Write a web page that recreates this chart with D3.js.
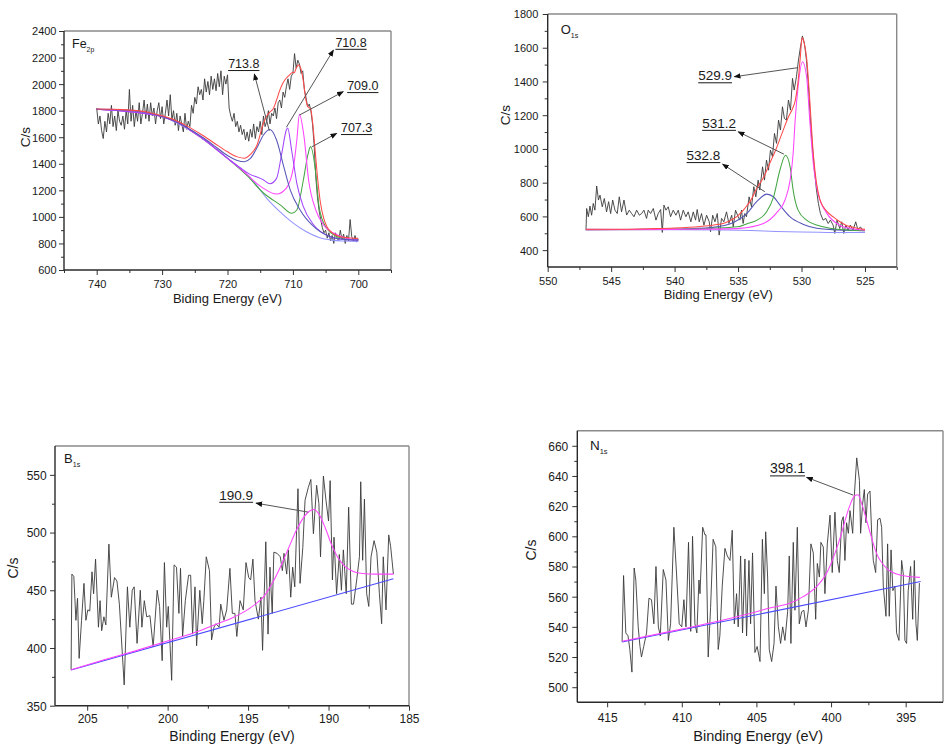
<!DOCTYPE html>
<html><head><meta charset="utf-8">
<script src="https://cdn.jsdelivr.net/npm/d3@7"></script>
<style>
html,body{margin:0;padding:0;background:#fff;}
svg{display:block;}
text{font-family:"Liberation Sans",Arial,Helvetica,sans-serif;fill:#1a1a1a;}
</style></head><body>
<svg id="chart" width="944" height="749"></svg>
<script>
// ---------------- Fe 2p ----------------
const fe2pRaw = [[740,1820],[739.75,1700],[739.5,1760],[739.25,1650],[739,1590],[738.75,1720],[738.5,1640],[738.25,1780],[738,1700],[737.75,1840],[737.5,1680],[737.25,1760],[737,1650],[736.75,1800],[736.5,1720],[736.25,1690],[736,1760],[735.75,1660],[735.5,1800],[735.25,1700],[735,1960],[734.75,1720],[734.5,1840],[734.25,1680],[734,1800],[733.75,1720],[733.5,1860],[733.25,1700],[733,1780],[732.75,1880],[732.5,1740],[732.25,1850],[732,1720],[731.75,1860],[731.5,1760],[731.25,1820],[731,1700],[730.75,1800],[730.5,1860],[730.25,1740],[730,1830],[729.75,1700],[729.5,1780],[729.25,1880],[729,1760],[728.75,1920],[728.5,1730],[728.25,1800],[728,1690],[727.75,1780],[727.5,1650],[727.25,1760],[727,1700],[726.75,1640],[726.5,1780],[726.25,1660],[726,1720],[725.75,1680],[725.5,1840],[725.25,1780],[725,1900],[724.75,1850],[724.5,1980],[724.25,1920],[724,1960],[723.75,1880],[723.5,2040],[723.25,1940],[723,2020],[722.75,1920],[722.5,2060],[722.25,1960],[722,2040],[721.75,1950],[721.5,2080],[721.25,1980],[721,2100],[720.75,1920],[720.5,2060],[720.25,2000],[720,2070],[719.75,1820],[719.5,1760],[719.25,1720],[719,1780],[718.75,1680],[718.5,1720],[718.25,1640],[718,1690],[717.75,1620],[717.5,1660],[717.25,1580],[717,1640],[716.75,1570],[716.5,1660],[716.25,1600],[716,1700],[715.75,1590],[715.5,1680],[715.25,1640],[715,1720],[714.75,1620],[714.5,1760],[714.25,1680],[714,1720],[713.75,1800],[713.5,1700],[713.25,1780],[713,1760],[712.75,1820],[712.5,1740],[712.25,1860],[712,1880],[711.75,1820],[711.5,1940],[711.25,1900],[711,1980],[710.75,2040],[710.5,1960],[710.25,2060],[710,2080],[709.75,2230],[709.5,2120],[709.25,2180],[709,2150],[708.75,2080],[708.5,2100],[708.25,1960],[708,1900],[707.75,1830],[707.5,1850],[707.25,1800],[707,1700],[706.75,1540],[706.5,1300],[706.25,1150],[706,1050],[705.75,980],[705.5,920],[705.25,880],[705,900],[704.75,840],[704.5,880],[704.25,820],[704,860],[703.75,800],[703.5,880],[703.25,840],[703,820],[702.75,900],[702.5,830],[702.25,870],[702,800],[701.75,860],[701.5,820],[701.25,980],[701,850],[700.75,820],[700.5,860],[700.25,810],[700,830]];
const fe2pBackground = [[740,1810],[738,1810],[736,1805],[734,1795],[732,1780],[730,1755],[728,1715],[726,1660],[724,1595],[722,1520],[720,1440],[718,1360],[716,1265],[714,1140],[712,1040],[710,955],[708,890],[706,845],[704,825],[702,818],[700,815]];
const fe2p713 = [[740,1811],[736,1806],[732,1782],[728,1720],[726,1668],[724,1605],[722,1535],[720,1462],[718.5,1425],[717.4,1416],[716.5,1440],[715.5,1520],[714.5,1617],[713.5,1658],[712.5,1579],[711.4,1378],[710.4,1202],[708.9,1052],[706.8,926],[704.3,851],[702,830],[700,826]];
const fe2p7108 = [[740,1810],[730,1755],[724,1597],[720,1442],[718,1368],[716.6,1322],[715,1290],[714.5,1278],[713.5,1250],[712.5,1290],[711.7,1479],[711.0,1654],[710.8,1670],[710.2,1504],[709.4,1253],[708.4,1077],[706.8,939],[704.3,851],[702,830],[700,826]];
const fe2p709 = [[740,1810],[730,1755],[724,1596],[720,1441],[717,1320],[715.5,1250],[714.5,1215],[712.5,1172],[711.0,1217],[709.9,1378],[709.4,1579],[709.0,1772],[708.3,1604],[707.6,1278],[706.5,1052],[705.3,939],[703.2,864],[701,830],[700,826]];
const fe2p7073 = [[740,1810],[730,1755],[724,1596],[720,1441],[717,1310],[714.5,1180],[711.9,1089],[710.2,1027],[709.4,1052],[708.4,1278],[707.7,1470],[707.3,1529],[706.5,1328],[706.0,1077],[705.0,926],[703.2,851],[701,828],[700,826]];
const fe2pEnvelope = [[740,1812],[736,1808],[732,1786],[728,1728],[726,1680],[724,1620],[722,1555],[720,1490],[718.5,1452],[717.4,1441],[716.5,1470],[715.5,1540],[714.5,1705],[714,1760],[713.5,1790],[713,1815],[712.5,1880],[712,1955],[711.5,2010],[711,2046],[710.5,2070],[710,2090],[709.8,2085],[709.5,2120],[709.1,2145],[708.8,2120],[708.4,2020],[708,1880],[707.7,1830],[707.3,1815],[707,1720],[706.6,1500],[706.2,1280],[705.8,1110],[705.3,990],[704.8,925],[704,880],[703,855],[702,845],[700,838]];
const fe2pXTicks = [740,730,720,710,700];
const fe2pXMinor = [745,735,725,715,705,695];
const fe2pYTicks = [600,800,1000,1200,1400,1600,1800,2000,2200,2400];
const fe2pYMinor = [700,900,1100,1300,1500,1700,1900,2100,2300];
const fe2pAnnot = [
  {label:"713.8", text:[719.9,2121], tail:[713.6,1649], head:[715.9,2076]},
  {label:"710.8", text:[703.5,2281], tail:[711.0,1675], head:[703.8,2257]},
  {label:"709.0", text:[701.7,1955], tail:[709.0,1767], head:[702.3,1943]},
  {label:"707.3", text:[702.65,1639], tail:[707.1,1528], head:[703.3,1629]}
];

// ---------------- O 1s ----------------
const o1sRaw = [[546.98,522],[546.93,647],[546.8,598],[546.67,661],[546.54,607],[546.41,677],[546.28,637],[546.14,780],[546.0,697],[545.88,726],[545.7,657],[545.54,706],[545.36,627],[545.2,687],[545.04,617],[544.88,697],[544.7,637],[544.52,617],[544.36,716],[544.18,627],[543.99,697],[543.78,608],[543.57,637],[543.39,617],[543.2,598],[542.99,637],[542.78,607],[542.6,617],[542.42,637],[542.21,588],[542.08,637],[541.89,617],[541.68,647],[541.47,578],[541.29,617],[541.1,641],[540.97,505],[540.84,667],[540.68,637],[540.5,657],[540.32,598],[540.11,637],[539.9,607],[539.71,637],[539.53,578],[539.32,637],[539.11,598],[538.93,627],[538.72,568],[538.53,627],[538.35,578],[538.22,641],[538.06,568],[537.88,617],[537.69,548],[537.48,607],[537.27,568],[537.17,509],[537.0,607],[536.82,568],[536.64,617],[536.49,489],[536.3,588],[536.12,568],[535.91,627],[535.72,558],[535.5,607],[535.38,538],[535.2,637],[534.99,598],[534.86,578],[534.73,637],[534.6,558],[534.47,617],[534.34,598],[534.13,716],[533.94,657],[533.76,776],[533.6,716],[533.42,815],[533.29,756],[533.07,894],[532.92,815],[532.76,934],[532.6,874],[532.45,993],[532.29,954],[532.13,1092],[531.97,1033],[531.81,1171],[531.66,1112],[531.5,1250],[531.35,1181],[531.19,1171],[531.03,1290],[530.87,1230],[530.71,1418],[530.58,1349],[530.4,1428],[530.24,1527],[530.08,1606],[529.93,1670],[529.77,1626],[529.61,1527],[529.45,1369],[529.3,1171],[529.14,1013],[528.98,874],[528.82,756],[528.67,677],[528.51,617],[528.3,578],[528.09,588],[527.9,558],[527.72,578],[527.51,548],[527.38,499],[527.2,578],[526.99,528],[526.83,568],[526.67,499],[526.51,548],[526.33,519],[526.15,548],[525.94,519],[525.73,568],[525.55,519],[525.36,538],[525.15,515]];
const o1sBackground = [[547,523],[540,521],[536,519],[534,516],[532,511],[530,507],[528,505],[525,504]];
const o1s5299 = [[547,521],[540,523],[536,526],[534.9,529],[533,558],[532,618],[531.3,697],[530.9,815],[530.66,973],[530.5,1171],[530.27,1369],[529.92,1517],[529.6,1428],[529.35,1171],[529.1,934],[528.7,736],[528,618],[527,548],[526,527],[525.15,519],[525,518]];
const o1s5312 = [[547,521],[540,523],[537,530],[535.5,536],[534.9,540],[534.3,556],[533.5,578],[532.75,627],[532.2,716],[531.7,875],[531.26,963],[530.9,894],[530.66,756],[530.27,637],[529.6,578],[528.3,538],[527,522],[525,515]];
const o1s5328 = [[547,521],[539.6,525],[537,535],[535.4,562],[534.3,618],[533.5,690],[532.75,732],[532.2,715],[531.7,667],[530.9,597],[529.9,554],[528.8,530],[527.8,523],[525,515]];
const o1sEnvelope = [[547,524],[545,524],[542,527],[540,531],[538,540],[537,548],[536,563],[535.5,580],[535,605],[534.5,645],[534,695],[533.5,770],[533,830],[532.5,915],[532,1000],[531.5,1100],[531,1195],[530.7,1240],[530.5,1285],[530.3,1380],[530.1,1540],[529.95,1660],[529.8,1630],[529.6,1540],[529.35,1290],[529.1,1000],[528.8,790],[528.55,700],[528,630],[527.5,597],[527,570],[526.5,548],[526,537],[525.5,528],[525,523]];
const o1sXTicks = [550,545,540,535,530,525];
const o1sXMinor = [547.5,542.5,537.5,532.5,527.5,522.5];
const o1sYTicks = [400,600,800,1000,1200,1400,1600,1800];
const o1sYMinor = [500,700,900,1100,1300,1500,1700];
const o1sAnnot = [
  {label:"529.9", text:[538.14,1407], tail:[530.27,1482], head:[535.3,1428]},
  {label:"531.2", text:[537.83,1125], tail:[531.39,969], head:[534.99,1102]},
  {label:"532.8", text:[539.06,934], tail:[532.89,746], head:[536.22,910]}
];

// ---------------- B 1s ----------------
const b1sRaw = [[206.0,381],[205.95,464],[205.83,462],[205.7,424],[205.6,443],[205.5,391],[205.35,424],[205.2,456],[205.08,424],[204.96,433],[204.84,432],[204.7,466],[204.6,447],[204.48,477],[204.3,418],[204.2,441],[204.1,415],[203.96,427],[203.84,420],[203.65,490],[203.5,444],[203.3,461],[203.15,458],[203.0,438],[202.7,368],[202.5,453],[202.35,418],[202.2,450],[202.08,453],[201.9,404],[201.7,450],[201.6,418],[201.45,441],[201.3,427],[201.1,428],[200.9,401],[200.65,450],[200.5,436],[200.34,389],[200.2,474],[200.06,418],[199.96,436],[199.75,372],[199.6,472],[199.45,470],[199.3,430],[199.2,469],[199.07,410],[198.9,441],[198.7,463],[198.57,463],[198.45,412],[198.3,453],[198.2,402],[198.0,450],[197.85,421],[197.75,441],[197.6,479],[197.4,467],[197.27,407],[197.12,418],[197.0,421],[196.8,418],[196.7,438],[196.5,424],[196.33,433],[196.13,469],[195.98,430],[195.82,430],[195.7,410],[195.5,441],[195.3,433],[195.13,474],[194.96,461],[194.84,459],[194.7,477],[194.57,441],[194.36,425],[194.2,444],[194.1,398],[193.9,492],[193.76,412],[193.64,470],[193.5,430],[193.4,483],[193.2,482],[193.0,479],[192.87,467],[192.77,482],[192.6,464],[192.5,485],[192.35,444],[192.23,470],[192.1,453],[191.9,538],[191.77,456],[191.6,487],[191.46,528],[191.26,539],[191.1,546],[190.94,499],[190.74,541],[190.6,525],[190.5,479],[190.32,549],[190.16,528],[190.0,510],[189.9,545],[189.76,459],[189.66,496],[189.5,447],[189.33,481],[189.2,450],[189.08,485],[188.9,447],[188.75,522],[188.58,438],[188.45,438],[188.25,459],[188.08,479],[188.0,544],[187.88,476],[187.77,529],[187.63,447],[187.5,436],[187.36,479],[187.17,493],[187.0,483],[186.84,447],[186.7,421],[186.6,479],[186.43,433],[186.26,498],[186.14,488],[185.97,464]];
const b1sBackground = [[206.0,381],[185.97,460]];
const b1sPeak = [[206.0,381],[204,389.5],[202,397.5],[200,406],[198,415],[197,420.5],[196,426],[195,433.5],[194.5,438.5],[194,445],[193.5,456],[193,470],[192.5,486],[192,502],[191.5,514],[191.2,518.5],[190.9,520],[190.6,516],[190.2,504],[189.8,489],[189.4,478],[189,471],[188.5,466.5],[188,464.8],[187,464],[185.97,464]];
const b1sXTicks = [205,200,195,190,185];
const b1sXMinor = [202.5,197.5,192.5,187.5];
const b1sYTicks = [350,400,450,500,550];
const b1sYMinor = [375,425,475,525];
const b1sAnnot = [{label:"190.9", text:[196.79,528.4], tail:[191.26,517.7], head:[194.51,525.5]}];

// ---------------- N 1s ----------------
const n1sRaw = [[414.0,530],[413.9,574],[413.75,536],[413.6,534],[413.48,525],[413.34,510],[413.19,579],[413.08,571],[412.92,540],[412.8,527],[412.7,520],[412.55,527],[412.36,536],[412.2,559],[412.03,558],[411.87,542],[411.73,580],[411.57,540],[411.44,534],[411.24,578],[411.06,571],[410.9,531],[410.75,542],[410.53,606],[410.35,575],[410.17,542],[410.0,540],[409.86,558],[409.72,540],[409.55,596],[409.4,537],[409.28,600],[409.12,542],[408.99,536],[408.85,571],[408.78,562],[408.6,606],[408.45,601],[408.38,601],[408.23,520],[408.07,553],[407.9,598],[407.72,593],[407.56,525],[407.45,534],[407.29,567],[407.11,592],[406.95,587],[406.77,584],[406.62,604],[406.48,542],[406.33,562],[406.22,540],[406.06,587],[405.93,536],[405.77,585],[405.66,534],[405.5,584],[405.39,542],[405.26,589],[405.1,523],[404.95,527],[404.76,517],[404.6,598],[404.47,562],[404.38,603],[404.25,573],[404.14,525],[403.98,517],[403.82,529],[403.69,567],[403.53,540],[403.38,529],[403.24,540],[403.09,531],[402.91,550],[402.8,587],[402.69,529],[402.53,596],[402.42,551],[402.26,606],[402.13,542],[401.97,550],[401.82,551],[401.68,540],[401.52,551],[401.35,595],[401.19,589],[401.03,545],[400.92,582],[400.78,573],[400.68,596],[400.52,593],[400.41,562],[400.25,595],[400.07,614],[399.92,576],[399.74,616],[399.58,584],[399.45,576],[399.29,610],[399.18,613],[399.07,584],[398.96,609],[398.84,602],[398.73,617],[398.55,602],[398.46,624],[398.28,652],[398.1,637],[398.02,602],[397.88,622],[397.77,631],[397.66,609],[397.55,628],[397.39,630],[397.28,602],[397.17,584],[397.01,576],[396.88,611],[396.72,612],[396.61,606],[396.5,567],[396.32,547],[396.21,595],[396.1,547],[395.98,591],[395.86,564],[395.72,567],[395.61,536],[395.45,531],[395.27,584],[395.16,575],[395.05,531],[394.94,529],[394.83,564],[394.67,580],[394.53,545],[394.42,584],[394.31,542],[394.22,531],[394.08,569]];
const n1sBackground = [[414.0,530],[394.0,570]];
const n1sPeak = [[414.0,530.5],[410,538.5],[407,545],[405,550],[404.1,552.5],[402.76,555.6],[401.87,560],[400.97,566.6],[400.3,575.5],[399.74,588.7],[399.3,602],[398.85,617.4],[398.4,627],[398.2,627.5],[397.96,622],[397.5,606.4],[396.95,588.7],[396.28,578.8],[395.39,574.4],[394.05,572.8]];
const n1sXTicks = [415,410,405,400,395];
const n1sXMinor = [412.5,407.5,402.5,397.5];
const n1sYTicks = [500,520,540,560,580,600,620,640,660];
const n1sYMinor = [510,530,550,570,590,610,630,650];
const n1sAnnot = [{label:"398.1", text:[404.09,641.7], tail:[398.51,627.3], head:[401.64,639.1]}];

// ---------------- colours ----------------
const C = {raw:"#3a3a3a", env:"#ff4a4a", bg:"#9393ff", slate:"#5656b8", purple:"#a044ff", magenta:"#ff44ff", green:"#44a644", blue:"#4a4aff"};

const panels = [
  {frame:{l:64,r:391,t:31,b:270}, xDomain:[745,695], yDomain:[600,2400],
   xTicks:fe2pXTicks, xMinor:fe2pXMinor, yTicks:fe2pYTicks, yMinor:fe2pYMinor,
   tickFont:11, yLabelGap:7.5, xLabelOff:17.5, title:"Biding Energy (eV)", titleFont:13, titleOff:33, titleDx:0,
   ylabX:-39, ylabY:106, ylabFont:13.5, name:"Fe", sub:"2p", nameX:8, nameY:17, nameFont:12.5,
   annotFont:12.5, annot:fe2pAnnot,
   raw:fe2pRaw,
   fits:[[fe2pBackground,C.bg],[fe2p7073,C.green],[fe2p709,C.magenta],[fe2p7108,C.purple],[fe2p713,C.slate],[fe2pEnvelope,C.env]]},
  {frame:{l:547.7,r:896.7,t:14,b:267}, xDomain:[550,522.5], yDomain:[300,1800],
   xTicks:o1sXTicks, xMinor:o1sXMinor, yTicks:o1sYTicks, yMinor:o1sYMinor,
   tickFont:11, yLabelGap:9.4, xLabelOff:18, title:"Biding Energy (eV)", titleFont:13, titleOff:32, titleDx:-4,
   ylabX:-42.7, ylabY:101, ylabFont:13.5, name:"O", sub:"1s", nameX:13, nameY:20, nameFont:13,
   annotFont:13.5, annot:o1sAnnot,
   raw:o1sRaw,
   fits:[[o1sBackground,C.bg],[o1s5328,C.slate],[o1s5312,C.green],[o1s5299,C.magenta],[o1sEnvelope,C.env]]},
  {frame:{l:55,r:409,t:446,b:705.7}, xDomain:[207,185], yDomain:[350,575],
   xTicks:b1sXTicks, xMinor:b1sXMinor, yTicks:b1sYTicks, yMinor:b1sYMinor,
   tickFont:12, yLabelGap:8.3, xLabelOff:17.6, title:"Binding Energy (eV)", titleFont:14, titleOff:35, titleDx:0,
   ylabX:-41.7, ylabY:122, ylabFont:14, name:"B", sub:"1s", nameX:9, nameY:17, nameFont:13,
   annotFont:13.5, annot:b1sAnnot,
   raw:b1sRaw,
   fits:[[b1sBackground,C.blue],[b1sPeak,C.magenta]]},
  {frame:{l:577.3,r:943,t:430.7,b:702.3}, xDomain:[417,392.5], yDomain:[490,670],
   xTicks:n1sXTicks, xMinor:n1sXMinor, yTicks:n1sYTicks, yMinor:n1sYMinor,
   tickFont:12, yLabelGap:9, xLabelOff:19.4, title:"Binding Energy (eV)", titleFont:14.5, titleOff:38.7, titleDx:-2,
   ylabX:-46.6, ylabY:119.3, ylabFont:14, name:"N", sub:"1s", nameX:12.7, nameY:19.3, nameFont:13.5,
   annotFont:14, annot:n1sAnnot,
   raw:n1sRaw,
   fits:[[n1sBackground,C.blue],[n1sPeak,C.magenta]]}
];

const svg = d3.select("#chart");
const defs = svg.append("defs");
defs.append("marker").attr("id","arrowhead").attr("viewBox","0 0 10 8")
  .attr("refX",9).attr("refY",4).attr("markerWidth",7).attr("markerHeight",5.5)
  .attr("markerUnits","userSpaceOnUse").attr("orient","auto")
  .append("path").attr("d","M0,0 L10,4 L0,8 Z").attr("fill","#111");

panels.forEach((p,i)=>{
  const f = p.frame;
  const x = d3.scaleLinear().domain(p.xDomain).range([f.l,f.r]);
  const y = d3.scaleLinear().domain(p.yDomain).range([f.b,f.t]);
  const g = svg.append("g");
  const clipId = "clip"+i;
  defs.append("clipPath").attr("id",clipId).append("rect")
    .attr("x",f.l).attr("y",f.t).attr("width",f.r-f.l).attr("height",f.b-f.t);

  const plot = g.append("g").attr("clip-path",`url(#${clipId})`);
  const line = d3.line().x(d=>x(d[0])).y(d=>y(d[1]));
  const smooth = d3.line().x(d=>x(d[0])).y(d=>y(d[1])).curve(d3.curveMonotoneX);

  plot.append("path").datum(p.raw).attr("d",line)
    .attr("fill","none").attr("stroke",C.raw).attr("stroke-width",0.9).attr("stroke-linejoin","round");
  p.fits.forEach(([data,col])=>{
    plot.append("path").datum(data).attr("d",smooth)
      .attr("fill","none").attr("stroke",col).attr("stroke-width",1.05);
  });

  // frame: top/right grey, left/bottom dark
  g.append("line").attr("x1",f.l).attr("x2",f.r).attr("y1",f.t).attr("y2",f.t).attr("stroke","#8a8a8a").attr("stroke-width",1.4);
  g.append("line").attr("x1",f.r).attr("x2",f.r).attr("y1",f.t).attr("y2",f.b).attr("stroke","#8a8a8a").attr("stroke-width",1.4);

  // axes
  const xAxis = g.append("g").attr("transform",`translate(0,${f.b})`)
    .call(d3.axisBottom(x).tickValues(p.xTicks).tickSize(5).tickFormat(d3.format("d")));
  const xMin = g.append("g").attr("transform",`translate(0,${f.b})`)
    .call(d3.axisBottom(x).tickValues(p.xMinor).tickSize(3).tickFormat(""));
  const yAxis = g.append("g").attr("transform",`translate(${f.l},0)`)
    .call(d3.axisLeft(y).tickValues(p.yTicks).tickSize(5).tickFormat(d3.format("d")));
  const yMin = g.append("g").attr("transform",`translate(${f.l},0)`)
    .call(d3.axisLeft(y).tickValues(p.yMinor).tickSize(3).tickFormat(""));
  [xAxis,xMin,yAxis,yMin].forEach(a=>{
    a.select(".domain").remove();
    a.selectAll(".tick line").attr("stroke","#333").attr("stroke-width",1);
  });
  xAxis.selectAll(".tick text").attr("y",p.xLabelOff).attr("dy",null)
    .style("font-size",p.tickFont+"px").style("font-family","'Liberation Sans',Arial,sans-serif").attr("fill","#1a1a1a");
  yAxis.selectAll(".tick text").attr("x",-p.yLabelGap).attr("dy","0.36em")
    .style("font-size",p.tickFont+"px").style("font-family","'Liberation Sans',Arial,sans-serif").attr("fill","#1a1a1a");
  g.append("line").attr("x1",f.l).attr("x2",f.r).attr("y1",f.b).attr("y2",f.b).attr("stroke","#2a2a2a").attr("stroke-width",1.4);
  g.append("line").attr("x1",f.l).attr("x2",f.l).attr("y1",f.t).attr("y2",f.b).attr("stroke","#2a2a2a").attr("stroke-width",1.4);

  // titles
  g.append("text").attr("x",(f.l+f.r)/2+p.titleDx).attr("y",f.b+p.titleOff)
    .attr("text-anchor","middle").style("font-size",p.titleFont+"px").text(p.title);
  g.append("text").attr("transform",`translate(${f.l+p.ylabX},${f.t+p.ylabY}) rotate(-90)`)
    .attr("text-anchor","middle").attr("dy","0.35em").style("font-size",p.ylabFont+"px").text("C/s");
  const nm = g.append("text").attr("x",f.l+p.nameX).attr("y",f.t+p.nameY).style("font-size",p.nameFont+"px");
  nm.append("tspan").text(p.name);
  nm.append("tspan").attr("dy",3.5).style("font-size",(p.nameFont*0.55)+"px").text(p.sub);

  // annotations
  p.annot.forEach(a=>{
    g.append("line").attr("x1",x(a.tail[0])).attr("y1",y(a.tail[1]))
      .attr("x2",x(a.head[0])).attr("y2",y(a.head[1]))
      .attr("stroke","#555").attr("stroke-width",1).attr("marker-end","url(#arrowhead)");
    const t = g.append("text").attr("x",x(a.text[0])).attr("y",y(a.text[1]))
      .style("font-size",p.annotFont+"px").text(a.label);
    const w = t.node().getComputedTextLength();
    g.append("line").attr("x1",x(a.text[0])).attr("x2",x(a.text[0])+w)
      .attr("y1",y(a.text[1])+2.5).attr("y2",y(a.text[1])+2.5)
      .attr("stroke","#1a1a1a").attr("stroke-width",1);
  });
});
</script>
</body></html>
